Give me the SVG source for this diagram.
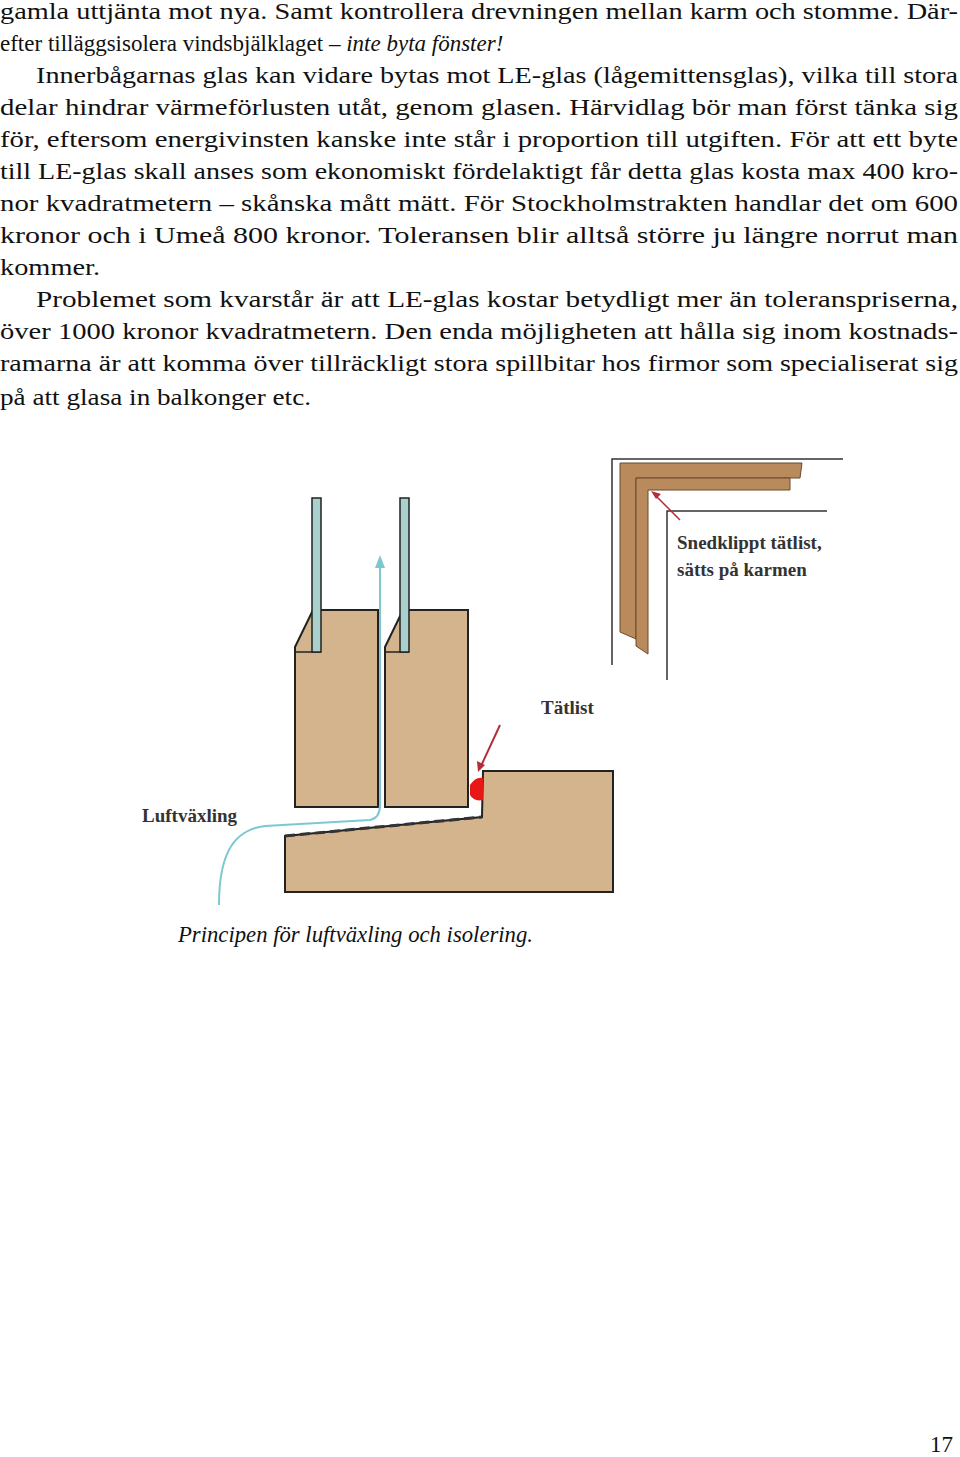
<svg xmlns="http://www.w3.org/2000/svg" width="960" height="1457" viewBox="0 0 960 1457">
<style>
.b{font-family:"Liberation Serif",serif;font-size:23px;fill:#111}
.w{fill:#d4b48c;stroke:#222;stroke-width:2}
.g{fill:#a9d0cc;stroke:#222;stroke-width:1.5}
.l{font-family:"Liberation Serif",serif;font-weight:bold;font-size:19px;fill:#333}
.st{fill:#b98a5c;stroke:#6b4a2c;stroke-width:1}
</style>
<rect width="960" height="1457" fill="#fff"/>
<g id="text">
<text class="b" x="0" y="19" textLength="958" lengthAdjust="spacingAndGlyphs">gamla uttjänta mot nya. Samt kontrollera drevningen mellan karm och stomme. Där-</text>
<text class="b" x="0" y="51">efter tilläggsisolera vindsbjälklaget – <tspan font-style="italic">inte byta fönster!</tspan></text>
<text class="b" x="36" y="83" textLength="922" lengthAdjust="spacingAndGlyphs">Innerbågarnas glas kan vidare bytas mot LE-glas (lågemittensglas), vilka till stora</text>
<text class="b" x="0" y="115" textLength="958" lengthAdjust="spacingAndGlyphs">delar hindrar värmeförlusten utåt, genom glasen. Härvidlag bör man först tänka sig</text>
<text class="b" x="0" y="147" textLength="958" lengthAdjust="spacingAndGlyphs">för, eftersom energivinsten kanske inte står i proportion till utgiften. För att ett byte</text>
<text class="b" x="0" y="179" textLength="958" lengthAdjust="spacingAndGlyphs">till LE-glas skall anses som ekonomiskt fördelaktigt får detta glas kosta max 400 kro-</text>
<text class="b" x="0" y="211" textLength="958" lengthAdjust="spacingAndGlyphs">nor kvadratmetern – skånska mått mätt. För Stockholmstrakten handlar det om 600</text>
<text class="b" x="0" y="243" textLength="958" lengthAdjust="spacingAndGlyphs">kronor och i Umeå 800 kronor. Toleransen blir alltså större ju längre norrut man</text>
<text class="b" x="0" y="275" textLength="100" lengthAdjust="spacingAndGlyphs">kommer.</text>
<text class="b" x="36" y="307" textLength="922" lengthAdjust="spacingAndGlyphs">Problemet som kvarstår är att LE-glas kostar betydligt mer än toleranspriserna,</text>
<text class="b" x="0" y="339" textLength="958" lengthAdjust="spacingAndGlyphs">över 1000 kronor kvadratmetern. Den enda möjligheten att hålla sig inom kostnads-</text>
<text class="b" x="0" y="371" textLength="958" lengthAdjust="spacingAndGlyphs">ramarna är att komma över tillräckligt stora spillbitar hos firmor som specialiserat sig</text>
<text class="b" x="0" y="405" textLength="311" lengthAdjust="spacingAndGlyphs">på att glasa in balkonger etc.</text>
<text class="b" x="178" y="942" font-style="italic" font-size="25" textLength="355" lengthAdjust="spacingAndGlyphs">Principen för luftväxling och isolering.</text>
<text class="b" x="930" y="1452" font-size="24">17</text>
</g>
<g id="sill">
<path class="w" d="M285,836 L482,817 L483,771 L613,771 L613,892 L285,892 Z"/>
<path d="M285,836 L482,817" stroke="#333" stroke-width="3" stroke-dasharray="10,5" fill="none"/>
</g>
<g id="sash1">
<path class="w" d="M295,647 L313,610 L378,610 L378,807 L295,807 Z"/>
<path d="M295,652 L321,652" stroke="#222" stroke-width="1.5"/>
<rect class="g" x="312" y="498" width="9" height="154"/>
</g>
<g id="sash2">
<path class="w" d="M385,647 L403,610 L468,610 L468,807 L385,807 Z"/>
<path d="M385,652 L409,652" stroke="#222" stroke-width="1.5"/>
<rect class="g" x="400" y="498" width="9" height="154"/>
</g>
<g id="tatlist">
<path d="M470,785 Q476,776 483,778 L483,800 Q474,802 470,795 Z" fill="#e81818"/>
</g>
<g id="frame-corner">
<path d="M612,665 L612,459 L843,459" fill="none" stroke="#333" stroke-width="1.5"/>
<path d="M667,680 L667,511 L827,511" fill="none" stroke="#333" stroke-width="1.5"/>
<path class="st" d="M620,463 L802,463 L800,478 L636,478 L636,639 L620,632 Z"/>
<path class="st" d="M636,478 L790,478 L790,490 L648,490 L648,654 L636,646 Z"/>
</g>
<g id="connectors">
<path d="M219,905 C219,860 230,830 265,826 L370,820 Q380,818 380,805 L380,566" fill="none" stroke="#7cc8d0" stroke-width="2"/>
<path d="M380,555 L375,568 L385,568 Z" fill="#7cc8d0"/>
<path d="M500,725 L481,766" stroke="#b0303a" stroke-width="2"/>
<path d="M478,772 L477,761 L485,765 Z" fill="#b0303a"/>
<path d="M680,520 L656,496" stroke="#b0303a" stroke-width="1.5"/>
<path d="M651,491 L661,494 L656,499 Z" fill="#b0303a"/>
</g>
<g id="labels">
<text class="l" x="142" y="822">Luftväxling</text>
<text class="l" x="541" y="714">Tätlist</text>
<text class="l" x="677" y="549">Snedklippt tätlist,</text>
<text class="l" x="677" y="576">sätts på karmen</text>
</g>
</svg>
